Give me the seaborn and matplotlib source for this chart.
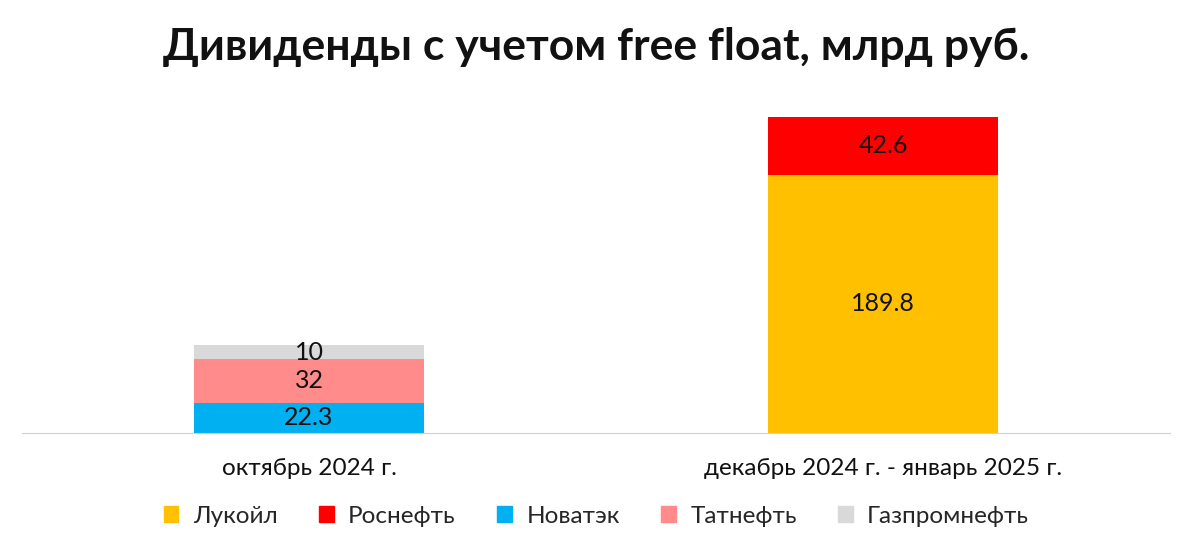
import matplotlib.pyplot as plt
import seaborn as sns
import pandas as pd
from matplotlib.patches import Patch

periods = ["октябрь 2024 г.", "декабрь 2024 г. - январь 2025 г."]
companies = ["Лукойл", "Роснефть", "Новатэк", "Татнефть", "Газпромнефть"]
colors = ["#FFC000", "#FF0000", "#00B0F0", "#FF8B8B", "#D9D9D9"]
# stacking order from bottom
lukoil = [0, 189.8]
rosneft = [0, 42.6]
novatek = [22.3, 0]
tatneft = [32, 0]
gazpromneft = [10, 0]

stack_order = [("Новатэк", novatek), ("Татнефть", tatneft), ("Газпромнефть", gazpromneft),
               ("Лукойл", lukoil), ("Роснефть", rosneft)]
color_map = dict(zip(companies, colors))

sns.set_style("white")
plt.rcParams["font.family"] = ["Lato", "DejaVu Sans"]

fig = plt.figure(figsize=(11.93, 5.49), dpi=100)
ax = fig.add_axes([22 / 1193, 116 / 549, 1148 / 1193, 343 / 549])

bottom = [0, 0]
for name, vals in stack_order:
    df = pd.DataFrame({"period": periods, "value": vals})
    sns.barplot(data=df, x="period", y="value", color=color_map[name], width=0.4,
                bottom=bottom, ax=ax, saturation=1, edgecolor="none")
    for i, v in enumerate(vals):
        if v > 0:
            ax.text(i, bottom[i] + v / 2, f"{v:g}", ha="center", va="center",
                    fontsize=18, color="#111111")
    bottom = [b + v for b, v in zip(bottom, vals)]

ax.set_xlim(-0.5, 1.5)
ax.set_ylim(0, 252)
ax.set_xlabel("")
ax.set_ylabel("")
ax.set_yticks([])
for s in ["top", "right", "left"]:
    ax.spines[s].set_visible(False)
ax.spines["bottom"].set_color("#D0D0D0")
ax.tick_params(axis="x", length=0, labelsize=17.5, pad=18, colors="#111111")

fig.text(0.5, 0.915, "Дивиденды с учетом free float, млрд руб.", ha="center", va="center",
         fontsize=32, fontweight="bold", color="#111111")

handles = [Patch(color=c, label=n) for n, c in zip(companies, colors)]
fig.legend(handles=handles, loc="center", bbox_to_anchor=(0.5, 0.06), ncol=5, frameon=False,
           fontsize=17.5, handlelength=0.6, handleheight=0.6, columnspacing=1.7, handletextpad=0.6)

fig.savefig("out.png", dpi=100)
